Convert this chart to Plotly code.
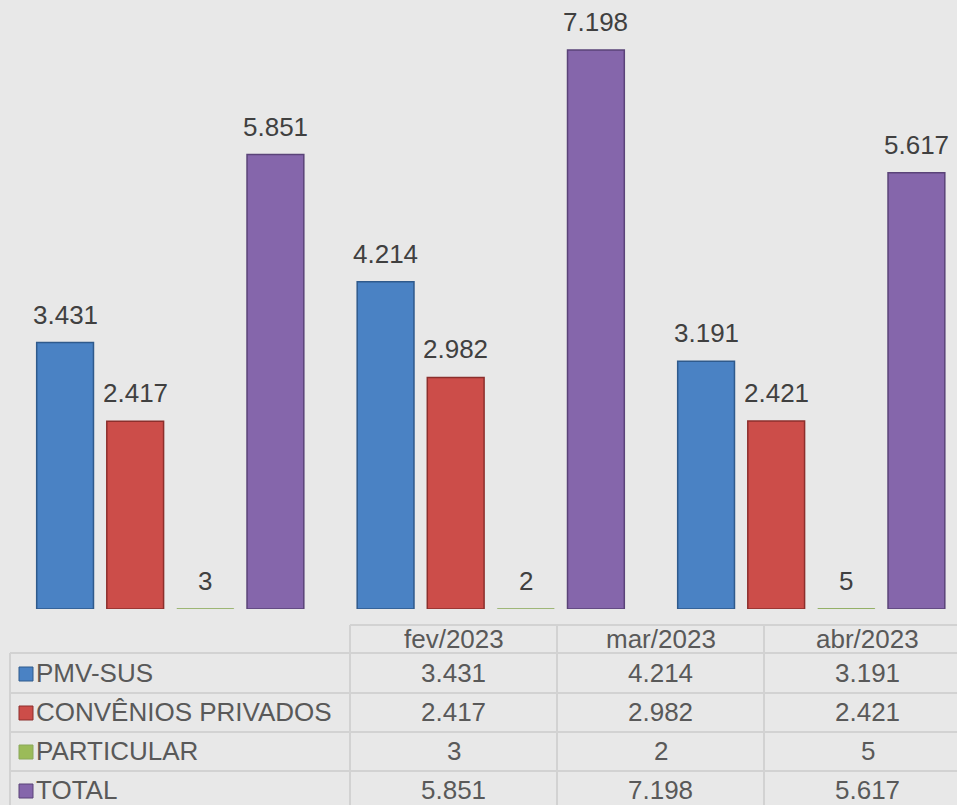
import plotly.graph_objects as go

meses = ["fev/2023", "mar/2023", "abr/2023"]
series = ["PMV-SUS", "CONVÊNIOS PRIVADOS", "PARTICULAR", "TOTAL"]
pmv_sus = [3431, 4214, 3191]
convenios = [2417, 2982, 2421]
particular = [3, 2, 5]
total = [5851, 7198, 5617]
valores = [pmv_sus, convenios, particular, total]

cores = ["#4a82c4", "#cc4d49", "#9bbb59", "#8566ab"]
bordas = ["#2f5a8c", "#8c2f2c", "#8aa85a", "#5a4378"]

W, H = 957, 805
base_y = 609
px_per_unit = 559 / 7198
bargap = 0.125
slot = (1 - bargap) / len(series)

def fmt(v):
    return f"{v:,}".replace(",", ".")

def px(x):
    return x / W

def py(y):
    return 1 - y / H

fig = go.Figure()
annotations = []
for k, (nome, vals, cor, borda) in enumerate(zip(series, valores, cores, bordas)):
    fig.add_trace(go.Bar(
        x=meses, y=vals, name=nome,
        marker=dict(color=cor, line=dict(color=borda, width=1.5 if k != 2 else 0.8)),
    ))
    # rótulos acima das barras
    for i, v in enumerate(vals):
        annotations.append(dict(x=i + (k - 1.5) * slot, y=v, xref="x", yref="y",
                                text=fmt(v), showarrow=False, xanchor="center",
                                yanchor="bottom", yshift=11,
                                font=dict(size=26, color="#404040")))

# tabela de dados
grid = "#d2d2d2"
shapes = []
col_x = [350, 557, 764, 971]
for x in col_x:
    shapes.append(dict(type="line", xref="paper", yref="paper",
                       x0=px(x), x1=px(x), y0=py(625), y1=py(810),
                       line=dict(color=grid, width=2)))
shapes.append(dict(type="line", xref="paper", yref="paper",
                   x0=px(10), x1=px(10), y0=py(653), y1=py(810),
                   line=dict(color=grid, width=2)))
shapes.append(dict(type="line", xref="paper", yref="paper",
                   x0=px(350), x1=px(971), y0=py(625), y1=py(625),
                   line=dict(color=grid, width=2)))
row_lines = [653, 693, 732, 771]
for y in row_lines:
    shapes.append(dict(type="line", xref="paper", yref="paper",
                       x0=px(10), x1=px(971), y0=py(y), y1=py(y),
                       line=dict(color=grid, width=2)))

for j, m in enumerate(meses):
    cx = (col_x[j] + col_x[j + 1]) / 2
    annotations.append(dict(xref="paper", yref="paper", x=px(cx), y=py(639),
                            text=m, showarrow=False, xanchor="center", yanchor="middle",
                            font=dict(size=26, color="#595959")))
row_c = [673, 712, 751, 790]
for i, (nome, vals) in enumerate(zip(series, valores)):
    yc = row_c[i]
    shapes.append(dict(type="rect", xref="paper", yref="paper",
                       x0=px(19), x1=px(33), y0=py(yc - 6), y1=py(yc + 8),
                       fillcolor=cores[i], line=dict(color=bordas[i], width=1)))
    annotations.append(dict(xref="paper", yref="paper", x=px(34), y=py(yc),
                            text=nome, showarrow=False, xanchor="left", yanchor="middle",
                            font=dict(size=26, color="#595959")))
    for j, v in enumerate(vals):
        cx = (col_x[j] + col_x[j + 1]) / 2
        annotations.append(dict(xref="paper", yref="paper", x=px(cx), y=py(yc),
                                text=fmt(v), showarrow=False, xanchor="center", yanchor="middle",
                                font=dict(size=26, color="#595959")))

fig.update_layout(
    width=W, height=H,
    margin=dict(l=0, r=0, t=0, b=0),
    barmode="group",
    bargap=bargap,
    bargroupgap=0.19,
    showlegend=False,
    paper_bgcolor="#e8e8e8",
    plot_bgcolor="#e8e8e8",
    font=dict(family="Liberation Sans, Arial, sans-serif"),
    xaxis=dict(domain=[px(10), 1], range=[-0.5, -0.5 + 947 / 320.5],
               showticklabels=False, showgrid=False, zeroline=False, showline=False),
    yaxis=dict(domain=[py(base_y), 1], range=[0, base_y / px_per_unit],
               showticklabels=False, showgrid=False, zeroline=False, showline=False),
    shapes=shapes,
    annotations=annotations,
)

fig.write_html("out.html", config={"displayModeBar": False},
               post_script="document.body.style.margin='0';document.body.style.overflow='hidden';")
